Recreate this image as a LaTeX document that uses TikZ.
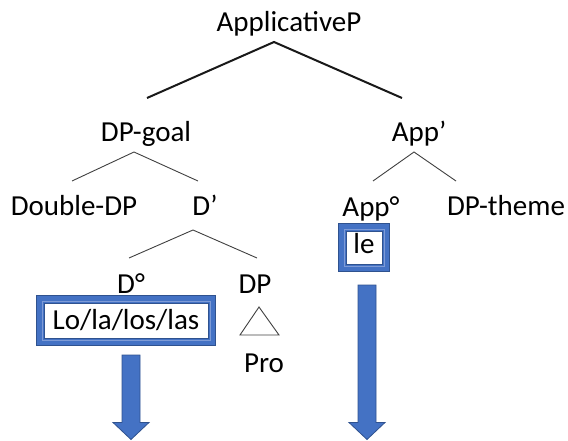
\documentclass[tikz,border=0pt]{standalone}
\usepackage{fontspec}
\setmainfont{Carlito}
\usetikzlibrary{calc}
\definecolor{boxblue}{HTML}{4472C4}
\definecolor{boxedge}{HTML}{2F528F}
\definecolor{boxlight}{HTML}{7E9BD6}
% double blue frame drawn around an (empty) box node
\newcommand\dblframe[1]{%
  \draw[boxblue, line width=8.5pt] ([shift={(4.25pt,-4.25pt)}]#1.north west) rectangle ([shift={(-4.25pt,4.25pt)}]#1.south east);
  \draw[boxedge, line width=0.8pt] ([shift={(0.4pt,-0.4pt)}]#1.north west) rectangle ([shift={(-0.4pt,0.4pt)}]#1.south east);
  \draw[boxlight, line width=0.7pt] ([shift={(5.9pt,-5.9pt)}]#1.north west) rectangle ([shift={(-5.9pt,5.9pt)}]#1.south east);
  \draw[boxedge, line width=0.6pt] ([shift={(8.2pt,-8.2pt)}]#1.north west) rectangle ([shift={(-8.2pt,8.2pt)}]#1.south east);
}
% downward block arrow from a top coordinate to a tip coordinate
\newcommand\blockarrow[2]{%
  \draw[blockarrow] ($(#1)+(-9pt,0)$) -- ($(#1)+(9pt,0)$) -- ($(#2)+(9pt,17pt)$) -- ($(#2)+(18pt,17pt)$)
    -- (#2) -- ($(#2)+(-18pt,17pt)$) -- ($(#2)+(-9pt,17pt)$) -- cycle;
}
\begin{document}
\begin{tikzpicture}[x=1pt,y=-1pt,
  lbl/.style={anchor=base, inner sep=0pt, font=\fontsize{29}{34}\selectfont},
  boxnode/.style={inner sep=0pt, outer sep=0pt},
  branch/.style={line width=0.9pt, draw=black!75},
  mainbranch/.style={line width=2pt, draw=black!90},
  blockarrow/.style={fill=boxblue, draw=boxedge, line width=0.8pt, line join=miter}]
\useasboundingbox (0,0) rectangle (568,441);

% labels
\node[lbl] (ap)     at (289,32)  {ApplicativeP};
\node[lbl] (dpg)    at (146,142) {DP-goal};
\node[lbl] (appbar) at (419,142) {App’};
\node[lbl] (ddp)    at (74,215)  {Double-DP};
\node[lbl] (dbar)   at (205,215) {D’};
\node[lbl] (appo)   at (371,216) {App°};
\node[lbl] (dpt)    at (506,215) {DP-theme};
\node[lbl] (dzero)  at (131,293) {D°};
\node[lbl] (dp)     at (255,293) {DP};
\node[lbl] (pro)    at (264,372) {Pro};

% framed clitics
\node[boxnode, minimum width=180pt, minimum height=51pt] (lobox) at (126,320.5) {};
\node[boxnode, minimum width=52pt, minimum height=49pt] (lebox) at (364,247.5) {};
\dblframe{lobox}
\dblframe{lebox}
\node[lbl] (lo) at (126,329) {Lo/la/los/las};
\node[lbl] (le) at (364,253) {le};

% branch points
\coordinate (ap-v) at (274,42);  \coordinate (ap-l) at (147,98);  \coordinate (ap-r) at (402,98);
\coordinate (dpg-v) at (134,152); \coordinate (dpg-l) at (72,181); \coordinate (dpg-r) at (198,181);
\coordinate (appbar-v) at (414,152); \coordinate (appbar-l) at (373,181); \coordinate (appbar-r) at (456,181);
\coordinate (dbar-v) at (193,230); \coordinate (dbar-l) at (129,258); \coordinate (dbar-r) at (257,258);

\draw[mainbranch] (ap-l) -- (ap-v) -- (ap-r);
\draw[branch] (dpg-l) -- (dpg-v) -- (dpg-r);
\draw[branch] (appbar-l) -- (appbar-v) -- (appbar-r);
\draw[branch] (dbar-l) -- (dbar-v) -- (dbar-r);

% triangle over Pro
\coordinate (tri-t) at (259,307); \coordinate (tri-l) at (240,335); \coordinate (tri-r) at (279,335);
\draw[branch, line join=miter] (tri-t) -- (tri-l) -- (tri-r) -- cycle;

% block arrows
\coordinate (la-top) at (131,355); \coordinate (la-tip) at (131,439.5);
\coordinate (ra-top) at (367,285); \coordinate (ra-tip) at (367,439.5);
\blockarrow{la-top}{la-tip}
\blockarrow{ra-top}{ra-tip}
\end{tikzpicture}
\end{document}
